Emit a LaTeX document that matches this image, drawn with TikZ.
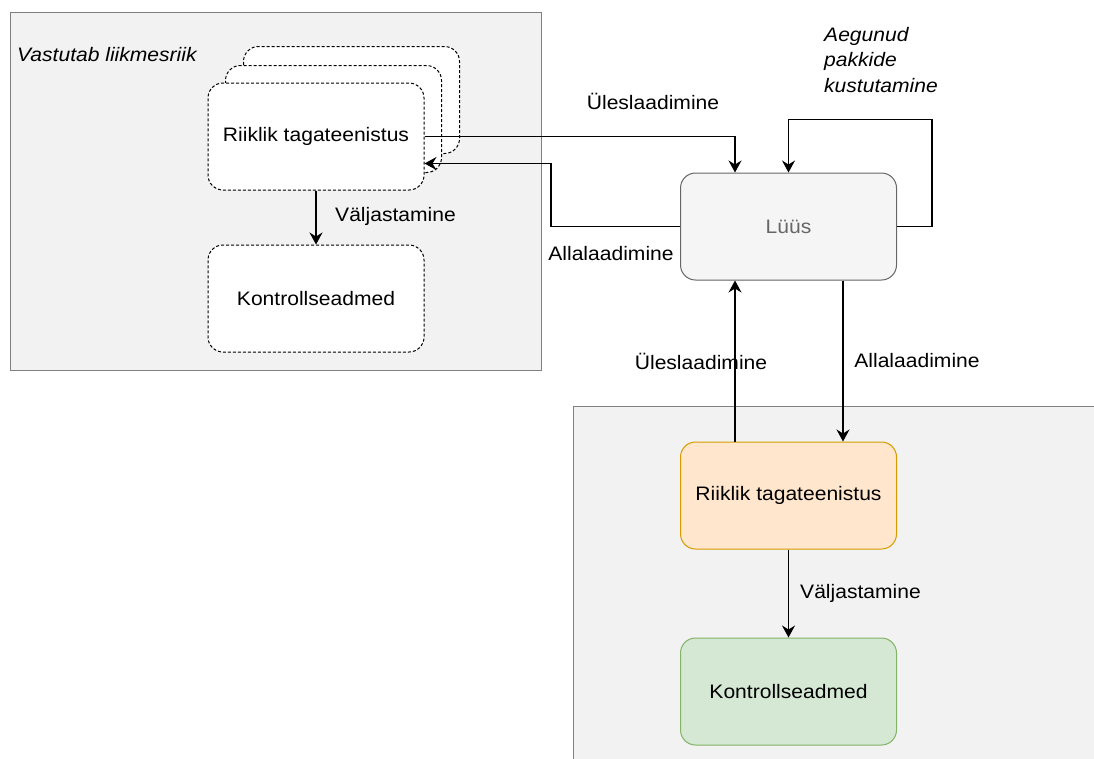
\documentclass[tikz,border=0pt]{standalone}
\usepackage{fontspec}
\setmainfont{Liberation Sans}[FakeStretch=1.08]
\usetikzlibrary{positioning,arrows.meta}

\definecolor{panelfill}{HTML}{F2F2F2}
\definecolor{panelline}{HTML}{808080}
\definecolor{gatefill}{HTML}{F5F5F5}
\definecolor{gateline}{HTML}{666666}
\definecolor{orfill}{HTML}{FFE6CC}
\definecolor{orline}{HTML}{D79B00}
\definecolor{grfill}{HTML}{D5E8D4}
\definecolor{grline}{HTML}{82B366}

\tikzset{
  every node/.style={font=\fontsize{19.5}{25.5}\selectfont},
  box/.style={rectangle,rounded corners=15pt,minimum width=216pt,minimum height=107pt,line width=1pt},
  stackbox/.style={box,draw,fill=white,dash pattern=on 3pt off 2pt},
  arr/.style={-{Stealth[length=12pt,width=13pt,inset=4pt]},line width=1.3pt},
  lbl/.style={inner sep=0pt}
}

\begin{document}
\begin{tikzpicture}[x=1pt,y=-1pt]
  \useasboundingbox (0,0) rectangle (1094,758);

  % containers
  \draw[fill=panelfill,draw=panelline,line width=1pt] (10,12) rectangle (541,370);
  \draw[fill=panelfill,draw=panelline,line width=1pt] (573,406) rectangle (1110,770);
  \node[lbl,anchor=west,font=\fontsize{19.5}{25.5}\selectfont\itshape] (resp) at (17,55) {Vastutab liikmesriik};

  % member state side
  \foreach \n/\x/\y in {stackc/351.5/100, stackb/333.5/119}
    \node[stackbox] (\n) at (\x,\y) {};
  \node[stackbox] (rk) at (316,136.5) {Riiklik tagateenistus};
  \node[stackbox] (ks) at (316,298.5) {Kontrollseadmed};

  % gateway
  \node[box,draw=gateline,fill=gatefill,text=gateline] (lu) at (788.5,226.5) {Lüüs};

  % lower side
  \node[box,draw=orline,fill=orfill] (ot) at (788.5,495.5) {Riiklik tagateenistus};
  \node[box,draw=grline,fill=grfill] (gk) at (788.5,691.5) {Kontrollseadmed};

  \draw[arr] (rk) -- (ks);
  \draw[arr] (rk.east) -| ([xshift=-53.5pt]lu.north);
  \draw[arr] (lu.west) -- ++(-129,0) |- ([yshift=-27pt]rk.east);
  \draw[arr] (lu.east) -- ++(35,0) -- ++(0,-107) -| (lu.north);
  \draw[arr] ([xshift=-53.5pt]ot.north) -- ([xshift=-53.5pt]lu.south);
  \draw[arr] ([xshift=54.5pt]lu.south) -- ([xshift=54.5pt]ot.north);
  \draw[arr] (ot) -- (gk);

  % labels
  \node[lbl,anchor=west] (v1) at (335,216) {Väljastamine};
  \node[lbl] (u1) at (653,101) {Üleslaadimine};
  \node[lbl] (a1) at (611,254) {Allalaadimine};
  \node[lbl] (u2) at (701,361) {Üleslaadimine};
  \node[lbl] (a2) at (917,361) {Allalaadimine};
  \node[lbl,anchor=west] (v2) at (800,593) {Väljastamine};
  \node[lbl,anchor=north west,align=left,font=\fontsize{19.5}{25.5}\selectfont\itshape] (del) at (824,27) {Aegunud\\pakkide\\kustutamine};
\end{tikzpicture}
\end{document}
